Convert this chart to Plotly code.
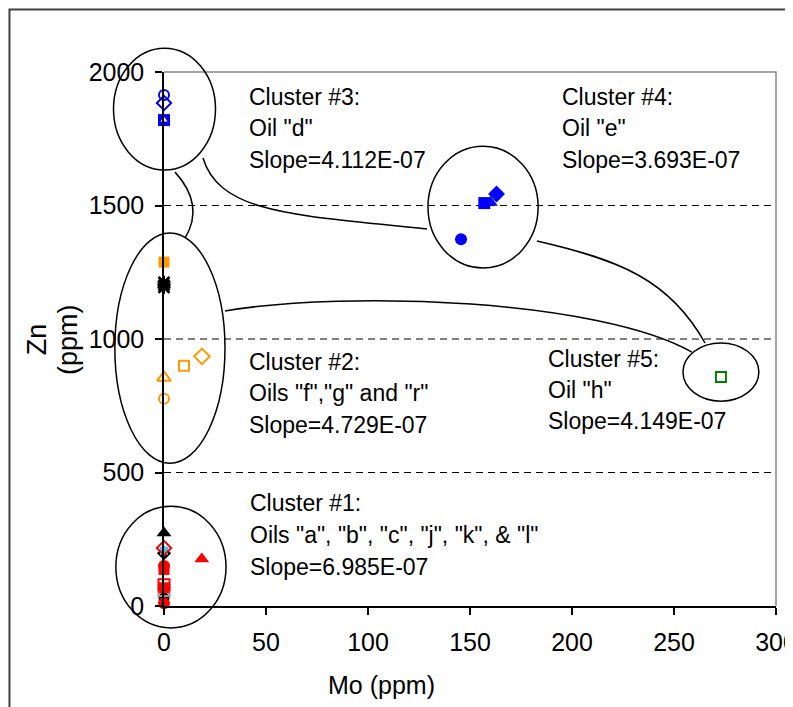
import plotly.graph_objects as go

# ---------------- axes ----------------
X_RANGE = [0, 300]
Y_RANGE = [0, 2000]
x_ticks = [0, 50, 100, 150, 200, 250, 300]
y_ticks = [0, 500, 1000, 1500, 2000]
grid_levels = [500, 1000, 1500]

# ---------------- data (Mo ppm, Zn ppm) ----------------
# Cluster 1
black_tri_mo = [0];          black_tri_zn = [273]
red_open_diamond_mo = [0];   red_open_diamond_zn = [217]
cyan_diamond_mo = [0];       cyan_diamond_zn = [207]
black_diamond_mo = [0];      black_diamond_zn = [198]
red_circle_mo = [0, 0];      red_circle_zn = [150, 10]
red_square_mo = [0, 0];      red_square_zn = [137, 68]
red_tri_mo = [18.5];         red_tri_zn = [176]
red_open_square_mo = [0];    red_open_square_zn = [80]
gray_open_square_mo = [0];   gray_open_square_zn = [58]
black_circle_mo = [0];       black_circle_zn = [30]
# Cluster 2
orange_square_mo = [0];          orange_square_zn = [1288]
black_x_mo = [0, 0, 0];          black_x_zn = [1212, 1202, 1193]
orange_open_diamond_mo = [18.6]; orange_open_diamond_zn = [935]
orange_open_square_mo = [9.8];   orange_open_square_zn = [900]
orange_open_tri_mo = [0];        orange_open_tri_zn = [855]
orange_open_circle_mo = [0];     orange_open_circle_zn = [776]
# Cluster 3 and 4
blue_open_circle_mo = [0];    blue_open_circle_zn = [1914]
blue_open_diamond_mo = [0];   blue_open_diamond_zn = [1884]
blue_square_mo = [0, 157];    blue_square_zn = [1820, 1509]
blue_open_tri_mo = [0];       blue_open_tri_zn = [1820]
blue_tri_mo = [160];          blue_tri_zn = [1511]
blue_diamond_mo = [163];      blue_diamond_zn = [1543]
blue_circle_mo = [145.6];     blue_circle_zn = [1374]
# Cluster 5
green_open_square_mo = [273]; green_open_square_zn = [858]

# cluster ellipses: centre Mo, centre Zn, radius Mo, radius Zn
ellipse_cx = [0.25, 2.9, 3.4, 156.4, 273]
ellipse_cy = [1861, 966, 146, 1494, 876]
ellipse_rx = [25, 27, 27, 27, 18.6]
ellipse_ry = [228, 431, 228, 228, 109]

# cluster texts
cluster_text = [
    ["Cluster #3:", 'Oil "d"', "Slope=4.112E-07"],
    ["Cluster #4:", 'Oil "e"', "Slope=3.693E-07"],
    ["Cluster #2:", 'Oils "f","g" and "r"', "Slope=4.729E-07"],
    ["Cluster #5:", 'Oil "h"', "Slope=4.149E-07"],
    ["Cluster #1:", 'Oils "a", "b", "c", "j", "k", & "l"', "Slope=6.985E-07"],
]
cluster_text_x = [40.7, 194.1, 40.7, 187.3, 41.2]
cluster_text_y = [[1906, 1790, 1670], [1906, 1790, 1670],
                  [914, 798, 678], [925, 809, 693], [386, 266, 146]]

RED = "#FF0000"; BLUE = "#0000FF"; ORANGE = "#FF9900"; GREEN = "#008000"
BLACK = "#000000"; GRAY = "#999999"; CYAN = "#33CCFF"

fig = go.Figure()


def add(mo, zn, symbol, color, size=11, fill=None, lw=2):
    fig.add_trace(go.Scatter(
        x=mo, y=zn, mode="markers", cliponaxis=False, showlegend=False,
        marker=dict(symbol=symbol, size=size,
                    color=fill if fill is not None else color,
                    line=dict(color=color, width=lw)),
    ))


# cluster 1
add(black_circle_mo, black_circle_zn, "circle", BLACK, 11, lw=0)
add(gray_open_square_mo, gray_open_square_zn, "square-open", GRAY, 11)
add(red_open_square_mo, red_open_square_zn, "square-open", RED, 11)
add(red_square_mo, red_square_zn, "square", RED, 11, lw=0)
add(red_circle_mo, red_circle_zn, "circle", RED, 12, lw=0)
add(black_diamond_mo, black_diamond_zn, "diamond", BLACK, 11, lw=0)
add(cyan_diamond_mo, cyan_diamond_zn, "square", CYAN, 8, lw=0)
add(red_open_diamond_mo, red_open_diamond_zn, "diamond-open", RED, 11)
add(black_tri_mo, black_tri_zn, "triangle-up", BLACK, 13, lw=0)
add(red_tri_mo, red_tri_zn, "triangle-up", RED, 13, lw=0)
# cluster 2
add(orange_square_mo, orange_square_zn, "square", ORANGE, 11, lw=0)
add(black_x_mo, black_x_zn, "x-thin-open", BLACK, 11, lw=2.5)
add(black_x_mo, black_x_zn, "asterisk-open", BLACK, 11, lw=2)
add(orange_open_diamond_mo, orange_open_diamond_zn, "diamond-open", ORANGE, 12)
add(orange_open_square_mo, orange_open_square_zn, "square-open", ORANGE, 10)
add(orange_open_tri_mo, orange_open_tri_zn, "triangle-up-open", ORANGE, 12)
add(orange_open_circle_mo, orange_open_circle_zn, "circle-open", ORANGE, 10)
# clusters 3 & 4
add(blue_open_circle_mo, blue_open_circle_zn, "circle-open", BLUE, 10)
add(blue_open_diamond_mo, blue_open_diamond_zn, "diamond-open", BLUE, 11)
add(blue_square_mo, blue_square_zn, "square", BLUE, 12, lw=0)
add(blue_open_tri_mo, blue_open_tri_zn, "triangle-up", BLUE, 9, fill="#FFFFFF", lw=1.5)
add(blue_tri_mo, blue_tri_zn, "triangle-up", BLUE, 13, lw=0)
add(blue_diamond_mo, blue_diamond_zn, "diamond", BLUE, 13, lw=0)
add(blue_circle_mo, blue_circle_zn, "circle", BLUE, 12, lw=0)
# cluster 5
add(green_open_square_mo, green_open_square_zn, "square-open", GREEN, 10)


def px(x):
    return (x - X_RANGE[0]) / (X_RANGE[1] - X_RANGE[0])


def py(y):
    return (y - Y_RANGE[0]) / (Y_RANGE[1] - Y_RANGE[0])


shapes = []
# outer chart frame (left and top edges)
shapes.append(dict(type="path", xref="paper", yref="paper",
                   path="M -0.2525,-0.4 L -0.2525,1.117 L 1.3,1.117",
                   line=dict(color="#404040", width=2)))
# grey plot-area border top/right
shapes.append(dict(type="path", xref="paper", yref="paper",
                   path="M 0,1 L 1,1 L 1,0", line=dict(color="#888888", width=1.5),
                   layer="below"))
# dashed grid
for g in grid_levels:
    shapes.append(dict(type="line", xref="paper", yref="y", x0=0, x1=1, y0=g, y1=g,
                       line=dict(color=BLACK, width=1, dash="7px,5px"), layer="below"))
# ellipses
for cx, cy, rx, ry in zip(ellipse_cx, ellipse_cy, ellipse_rx, ellipse_ry):
    shapes.append(dict(type="circle", xref="paper", yref="paper",
                       x0=px(cx - rx), x1=px(cx + rx), y0=py(cy - ry), y1=py(cy + ry),
                       line=dict(color=BLACK, width=1.5)))


def curve(points, cmd):
    p = [f"{px(x):.5f},{py(y):.5f}" for x, y in points]
    return f"M {p[0]} {cmd} " + " ".join(p[1:])


connectors = [
    ([(19.1, 1678), (27.5, 1464), (66.7, 1464), (128.9, 1412)], "C"),
    ([(5.4, 1625), (20.1, 1502), (10.3, 1378)], "Q"),
    ([(29.9, 1105), (91.2, 1184), (213.7, 1146), (258.8, 951)], "C"),
    ([(182.8, 1367), (223.5, 1296), (248.0, 1221), (265.2, 985)], "C"),
]
for pts, cmd in connectors:
    shapes.append(dict(type="path", xref="paper", yref="paper", path=curve(pts, cmd),
                       line=dict(color=BLACK, width=1.5)))

annotations = []
for lines, tx, tys in zip(cluster_text, cluster_text_x, cluster_text_y):
    for line, ty in zip(lines, tys):
        annotations.append(dict(x=tx, y=ty, xref="x", yref="y", text=line,
                                showarrow=False, xanchor="left", yanchor="middle",
                                font=dict(family="Liberation Sans, Arial", size=23,
                                          color=BLACK)))

TITLE_FONT = dict(family="Liberation Sans Narrow, Arial Narrow, Liberation Sans", size=25,
                  color=BLACK)
annotations.append(dict(x=0.3546, y=-0.148, xref="paper", yref="paper", text="Mo (ppm)",
                        showarrow=False, xanchor="center", yanchor="middle", font=TITLE_FONT))
annotations.append(dict(x=-0.207, y=0.50, xref="paper", yref="paper", text="Zn",
                        showarrow=False, xanchor="center", yanchor="middle", textangle=-90,
                        font=dict(family="Liberation Sans, Arial", size=27, color=BLACK)))
annotations.append(dict(x=-0.157, y=0.50, xref="paper", yref="paper", text="(ppm)",
                        showarrow=False, xanchor="center", yanchor="middle", textangle=-90,
                        font=dict(family="Liberation Sans, Arial", size=27, color=BLACK)))

TICK_FONT = dict(family="Liberation Sans Narrow, Arial Narrow, Liberation Sans", size=25,
                 color=BLACK)

# The page body carries an 8px default margin, so the figure is offset by 8px;
# margins are reduced accordingly so the plot area sits where the reference has it.
fig.update_layout(
    width=793, height=707,
    margin=dict(l=156, r=25, t=64, b=109, pad=0),
    paper_bgcolor="#FFFFFF", plot_bgcolor="#FFFFFF",
    showlegend=False,
    shapes=shapes,
    annotations=annotations,
    xaxis=dict(range=X_RANGE, tickvals=x_ticks, ticktext=[str(v) for v in x_ticks],
               showgrid=False, zeroline=False, showline=True, linecolor=BLACK, linewidth=1.5,
               ticks="outside", ticklen=7, tickwidth=1.5, tickcolor=BLACK,
               ticklabelstandoff=6,
               tickfont=TICK_FONT, fixedrange=True, automargin=False),
    yaxis=dict(range=Y_RANGE, tickvals=y_ticks, ticktext=[str(v) for v in y_ticks],
               showgrid=False, zeroline=False, showline=True, linecolor=BLACK, linewidth=1.5,
               ticks="outside", ticklen=7, tickwidth=1.5, tickcolor=BLACK,
               ticklabelstandoff=6,
               tickfont=TICK_FONT, fixedrange=True, automargin=False),
)

fig.write_html("out.html")
